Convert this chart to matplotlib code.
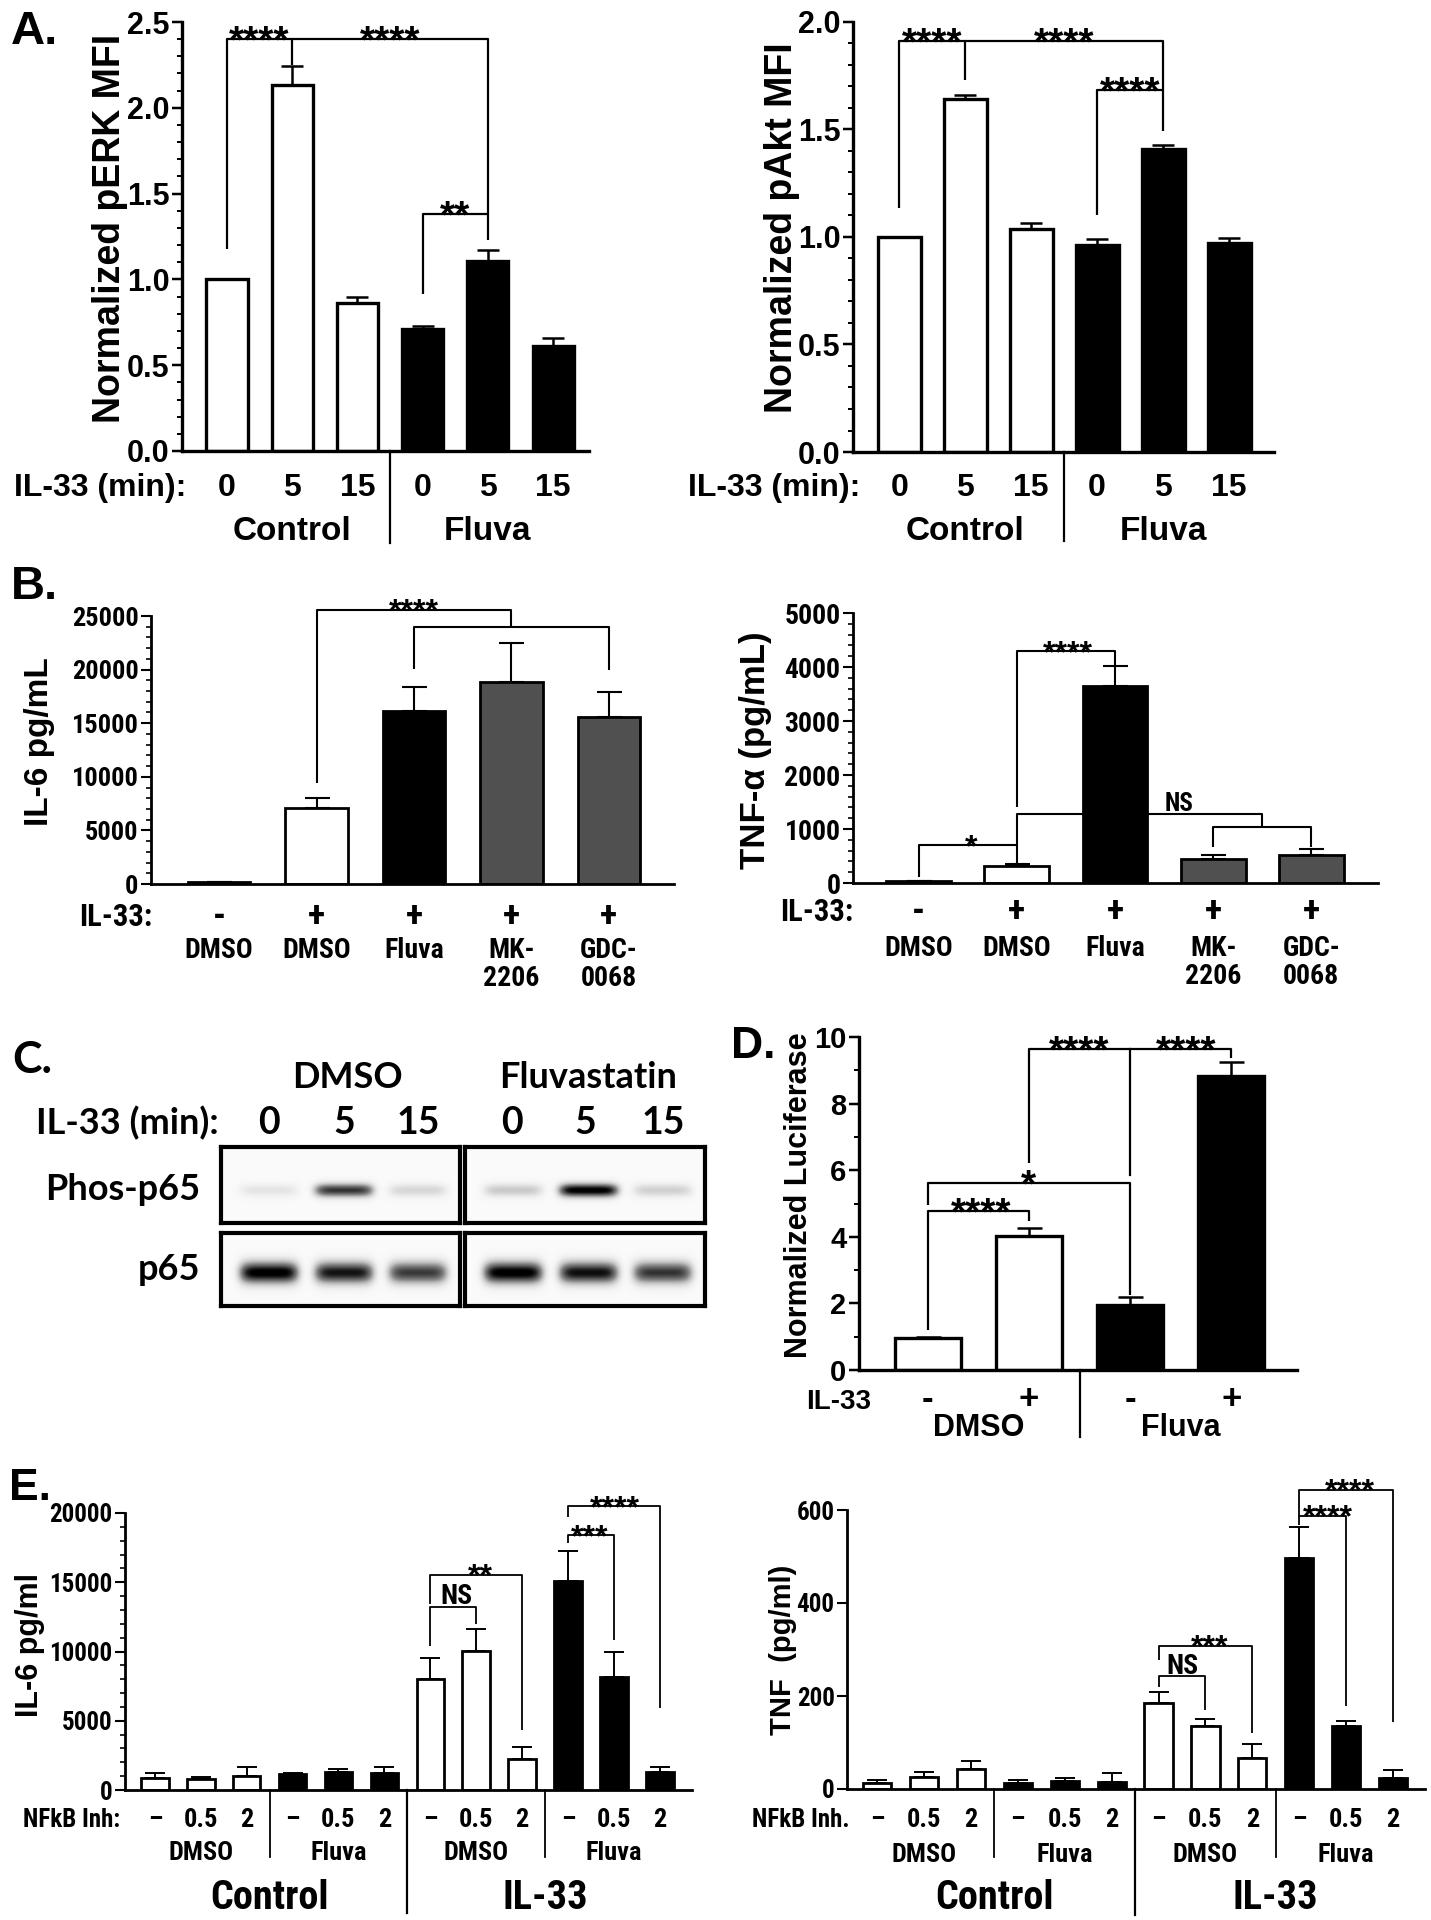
import numpy as np
import matplotlib
matplotlib.use('Agg')
import matplotlib.pyplot as plt
from matplotlib import font_manager as fm
from matplotlib.font_manager import FontProperties
from matplotlib.ticker import MultipleLocator, FormatStrFormatter
from matplotlib.transforms import blended_transform_factory

plt.rcParams['font.family'] = ['Liberation Sans', 'DejaVu Sans']
plt.rcParams['font.weight'] = 'bold'

# ---- data ----
# A: pERK / pAkt MFI
time_labels = ['0', '5', '15', '0', '5', '15']
group_a = ['Control', 'Fluva']
perk_mean = [1.00, 2.13, 0.86, 0.71, 1.11, 0.61]
perk_err = [0.0, 0.115, 0.04, 0.02, 0.06, 0.05]
pakt_mean = [1.00, 1.64, 1.035, 0.965, 1.41, 0.97]
pakt_err = [0.0, 0.02, 0.03, 0.025, 0.02, 0.025]
a_colors = ['white'] * 3 + ['black'] * 3

# B: IL-6 / TNF-a with Akt inhibitors
b_il33 = ['-', '+', '+', '+', '+']
b_treat = ['DMSO', 'DMSO', 'Fluva', 'MK-\n2206', 'GDC-\n0068']
il6_mean = [150, 7050, 16100, 18800, 15600]
il6_err = [0, 1000, 2300, 3700, 2300]
tnf_mean = [30, 316, 3650, 440, 515]
tnf_err = [0, 45, 370, 75, 115]
b_colors = ['white', 'white', 'black', '#505050', '#505050']

# C: western blot band strengths (relative)
blot_groups = ['DMSO', 'Fluvastatin']
blot_times = ['0', '5', '15', '0', '5', '15']
phos_level = [0.15, 0.80, 0.22, 0.28, 1.00, 0.25]
p65_level = [1.00, 0.90, 0.78, 1.00, 0.92, 0.80]

# D: luciferase
d_il33 = ['-', '+', '-', '+']
d_groups = ['DMSO', 'Fluva']
luc_mean = [0.97, 4.03, 1.95, 8.82]
luc_err = [0.03, 0.22, 0.23, 0.42]
d_colors = ['white', 'white', 'black', 'black']

# E: NFkB inhibitor
nfkb_labels = ['\u2013', '0.5', '2'] * 4
e_sub = ['DMSO', 'Fluva', 'DMSO', 'Fluva']
e_main = ['Control', 'IL-33']
e_il6_mean = [840, 770, 1000, 1130, 1320, 1250, 8000, 10050, 2210, 15070, 8130, 1270]
e_il6_err = [360, 190, 680, 120, 170, 430, 1500, 1550, 920, 2170, 1870, 410]
e_tnf_mean = [13, 26, 43, 13, 18, 16, 185, 136, 67, 497, 135, 24]
e_tnf_err = [6, 10, 17, 6, 6, 18, 23, 15, 30, 66, 12, 16]
e_colors = (['white'] * 3 + ['black'] * 3) * 2


# panels B and E use a narrow bold face, if one is installed
def pick_narrow():
    for want in ['Liberation Sans Narrow', 'Arial Narrow', 'Roboto Condensed']:
        for f in fm.fontManager.ttflist:
            if f.name == want and f.weight in (700, 'bold') and f.style == 'normal':
                return f.fname
    return None


NARROW = pick_narrow()


def nf(size):
    if NARROW:
        return FontProperties(fname=NARROW, size=size)
    return FontProperties(family=['Liberation Sans', 'DejaVu Sans'], weight='bold', size=size)


W, H = 1431, 1920
fig = plt.figure(figsize=(W / 100, H / 100), dpi=100)


def fy(ypx):
    return 1 - ypx / H


def ftext(xpx, ypx, s, **kw):
    fig.text(xpx / W, fy(ypx), s, **kw)


def add_ax(x0, ytop, x1, ybase):
    return fig.add_axes([x0 / W, fy(ybase), (x1 - x0) / W, (ybase - ytop) / H])


def style(ax, xlim, ylim, major, minor, lw, fs, fmt='%d', fp=None):
    ax.set_xlim(xlim)
    ax.set_ylim(ylim)
    for s in ['top', 'right']:
        ax.spines[s].set_visible(False)
    for s in ['left', 'bottom']:
        ax.spines[s].set_linewidth(lw)
    ax.set_xticks([])
    ax.set_yticks(np.arange(ylim[0], ylim[1] + major / 2, major))
    ax.yaxis.set_major_formatter(FormatStrFormatter(fmt))
    if minor:
        ax.yaxis.set_minor_locator(MultipleLocator(minor))
    ax.tick_params(axis='y', which='major', length=7, width=lw * 0.75, labelsize=fs, pad=2)
    ax.tick_params(axis='y', which='minor', length=3.5, width=lw * 0.6)
    if fp is not None:
        for t in ax.get_yticklabels():
            t.set_fontproperties(fp)
    ax.patch.set_alpha(0)


def bars(ax, means, errs, colors, width, lw, capsize, elw):
    x = np.arange(len(means))
    ax.bar(x, means, width, color=colors, edgecolor='black', linewidth=lw, zorder=2)
    ax.errorbar(x, means, yerr=[np.zeros(len(errs)), errs], fmt='none', ecolor='black',
                elinewidth=elw, capsize=capsize, capthick=elw, zorder=1)


def bracket(ax, x1, x2, y, y1, y2, lw):
    ax.plot([x1, x1, x2, x2], [y1, y, y, y2], color='black', lw=lw, clip_on=False,
            solid_capstyle='butt', zorder=3)


def sig(ax, x, y, label, fs):
    dy = -0.40 * fs + 1.5 if set(label) == {'*'} else 2
    ax.annotate(label, (x, y), xytext=(0, dy), textcoords='offset points', ha='center',
                va='baseline', fontsize=fs, annotation_clip=False)


def row(ax, xs, ypx, labels, **kw):
    tr = blended_transform_factory(ax.transData, fig.transFigure)
    for x, lab in zip(xs, labels):
        ax.text(x, fy(ypx), lab, transform=tr, ha='center', va='center', clip_on=False, **kw)


def vsep(ax, x, y0px, y1px, lw):
    tr = blended_transform_factory(ax.transData, fig.transFigure)
    ax.plot([x, x], [fy(y0px), fy(y1px)], color='black', lw=lw, transform=tr, clip_on=False)


# ================= A left: pERK =================
ax = add_ax(182, 22, 589, 451)
style(ax, (-0.69, 5.55), (0, 2.5), 0.5, 0.1, 2.4, 22, '%.1f')
bars(ax, perk_mean, perk_err, a_colors, 0.63, 2.4, 8, 1.8)
bracket(ax, 0, 1, 2.40, 1.175, 2.25, 1.6)
bracket(ax, 1, 4, 2.40, 2.40, 1.23, 1.6)
bracket(ax, 3, 4, 1.38, 0.915, 1.38, 1.6)
sig(ax, 0.5, 2.40, '****', 28)
sig(ax, 2.5, 2.40, '****', 28)
sig(ax, 3.5, 1.38, '**', 28)
row(ax, range(6), 488, time_labels, fontsize=23)
row(ax, [1, 4], 532, group_a, fontsize=24)
vsep(ax, 2.5, 451, 543, 1.6)
ftext(186, 488, 'IL-33 (min):', ha='right', va='center', fontsize=23)
ftext(110, 228, 'Normalized pERK MFI', rotation=90, ha='center', va='center', fontsize=27)
ftext(11, 10, 'A.', ha='left', va='top', fontsize=34)

# ================= A right: pAkt =================
ax = add_ax(853, 22, 1274, 452)
style(ax, (-0.70, 5.68), (0, 2.0), 0.5, 0.1, 2.4, 22, '%.1f')
bars(ax, pakt_mean, pakt_err, a_colors, 0.65, 2.4, 8, 1.8)
bracket(ax, 0, 1, 1.91, 1.135, 1.73, 1.6)
bracket(ax, 1, 4, 1.91, 1.91, 1.495, 1.6)
bracket(ax, 3, 4, 1.683, 1.10, 1.683, 1.6)
sig(ax, 0.5, 1.91, '****', 28)
sig(ax, 2.5, 1.91, '****', 28)
sig(ax, 3.5, 1.683, '****', 28)
row(ax, range(6), 488, time_labels, fontsize=23)
row(ax, [1, 4], 532, group_a, fontsize=24)
vsep(ax, 2.5, 452, 541, 1.6)
ftext(860, 488, 'IL-33 (min):', ha='right', va='center', fontsize=23)
ftext(782, 228, 'Normalized pAkt MFI', rotation=90, ha='center', va='center', fontsize=27)

# ================= B left: IL-6 =================
ax = add_ax(151, 616, 674, 884)
style(ax, (-0.70, 4.67), (0, 25000), 5000, 1000, 2.0, 19, fp=nf(19))
bars(ax, il6_mean, il6_err, b_colors, 0.64, 2.0, 9, 1.5)
bracket(ax, 1, 3, 25600, 9390, 23950, 1.5)
bracket(ax, 2, 4, 23950, 20100, 20000, 1.5)
sig(ax, 2.0, 25600, '****', 23)
row(ax, range(5), 917, b_il33, fontproperties=nf(26))
for i, lab in enumerate(b_treat):
    for j, part in enumerate(lab.split('\n')):
        row(ax, [i], 950 + 28 * j, [part], fontproperties=nf(20))
ftext(152, 917, 'IL-33:', ha='right', va='center', fontproperties=nf(22))
ftext(40, 742, 'IL-6 pg/mL', rotation=90, ha='center', va='center', fontsize=24)
ftext(11, 565, 'B.', ha='left', va='top', fontsize=34)

# ================= B right: TNF-a =================
ax = add_ax(853, 613, 1378, 883)
style(ax, (-0.67, 4.68), (0, 5000), 1000, 200, 2.0, 20, fp=nf(20))
bars(ax, tnf_mean, tnf_err, b_colors, 0.66, 2.0, 9, 1.5)
bracket(ax, 0, 1, 700, 110, 360, 1.5)
bracket(ax, 1, 2, 4290, 1410, 4020, 1.5)
bracket(ax, 1, 3.5, 1287, 700, 1040, 1.5)
bracket(ax, 3, 4, 1040, 670, 670, 1.5)
sig(ax, 0.53, 700, '*', 23)
sig(ax, 1.52, 4290, '****', 23)
row(ax, [2.65], 0, [''])
ax.annotate('NS', (2.65, 1287), xytext=(0, 2), textcoords='offset points', ha='center',
            va='baseline', fontproperties=nf(18), annotation_clip=False)
row(ax, range(5), 912, b_il33, fontproperties=nf(26))
for i, lab in enumerate(b_treat):
    for j, part in enumerate(lab.split('\n')):
        row(ax, [i], 948 + 28 * j, [part], fontproperties=nf(20))
ftext(853, 912, 'IL-33:', ha='right', va='center', fontproperties=nf(22))
ftext(756, 750, 'TNF-\u03b1 (pg/mL)', rotation=90, ha='center', va='center', fontsize=25)

# ================= C: blot =================
cfont = ['Lato', 'DejaVu Sans']
lane_pos = [0.20, 0.515, 0.825]


def blot(x0, x1, y0, y1, levels, cy, hh):
    bax = add_ax(x0, y0, x1, y1)
    ny, nx = 80, 250
    yy, xx = np.mgrid[0:1:ny * 1j, 0:1:nx * 1j]
    img = np.full((ny, nx), 0.04)
    for cx, lv in zip(lane_pos, levels):
        img += lv * np.exp(-((xx - cx) / 0.125) ** 6) * np.exp(-((yy - cy) / hh) ** 2)
    bax.imshow(np.clip(img, 0, 1), cmap='Greys', vmin=0, vmax=1, extent=(0, 1, 1, 0),
               aspect='auto', interpolation='bilinear')
    bax.set_xticks([])
    bax.set_yticks([])
    for s in bax.spines.values():
        s.set_linewidth(3)


blot(221, 460, 1147, 1223, phos_level[:3], 0.57, 0.09)
blot(465, 705, 1147, 1223, phos_level[3:], 0.57, 0.09)
blot(221, 460, 1233, 1306, p65_level[:3], 0.55, 0.15)
blot(465, 705, 1233, 1306, p65_level[3:], 0.55, 0.15)
ftext(347, 1077, blot_groups[0], ha='center', va='center', fontsize=26, family=cfont)
ftext(588, 1077, blot_groups[1], ha='center', va='center', fontsize=26, family=cfont)
for xp, lab in zip([269, 344, 418, 512, 585, 663], blot_times):
    ftext(xp, 1123, lab, ha='center', va='center', fontsize=27, family=cfont)
ftext(219, 1123, 'IL-33 (min):', ha='right', va='center', fontsize=26, family=cfont)
ftext(200, 1190, 'Phos-p65', ha='right', va='center', fontsize=26, family=cfont)
ftext(200, 1270, 'p65', ha='right', va='center', fontsize=26, family=cfont)
ftext(12, 1040, 'C.', ha='left', va='top', fontsize=32, family=cfont)

# ================= D: luciferase =================
ax = add_ax(859, 1037, 1297, 1370)
style(ax, (-0.68, 3.65), (0, 10), 2, 1, 2.4, 21)
bars(ax, luc_mean, luc_err, d_colors, 0.65, 2.4, 9, 1.8)
bracket(ax, 0, 1, 4.76, 1.2, 4.46, 1.6)
bracket(ax, 0, 2, 5.63, 4.96, 2.25, 1.6)
bracket(ax, 1, 3, 9.64, 6.21, 9.37, 1.6)
ax.plot([2, 2], [9.64, 5.86], color='black', lw=1.6, clip_on=False)
sig(ax, 0.53, 4.76, '****', 28)
sig(ax, 1.0, 5.63, '*', 28)
sig(ax, 1.5, 9.64, '****', 28)
sig(ax, 2.55, 9.64, '****', 28)
row(ax, range(4), 1399, d_il33, fontsize=25)
row(ax, [0.5, 2.5], 1428, d_groups, fontsize=22)
vsep(ax, 1.5, 1370, 1437, 1.6)
ftext(871, 1402, 'IL-33', ha='right', va='center', fontsize=20)
ftext(799, 1195, 'Normalized Luciferase', rotation=90, ha='center', va='center', fontsize=22)
ftext(731, 1026, 'D.', ha='left', va='top', fontsize=32)

# ================= E left: IL-6 =================
ax = add_ax(125, 1513, 692, 1790)
style(ax, (-0.65, 11.7), (0, 20000), 5000, 1000, 2.0, 18, fp=nf(18))
bars(ax, e_il6_mean, e_il6_err, e_colors, 0.6, 2.0, 7, 1.4)
bracket(ax, 6, 7, 13200, 10400, 12000, 1.3)
bracket(ax, 6, 8, 15550, 13460, 4330, 1.3)
bracket(ax, 9, 10, 18400, 17800, 10800, 1.3)
bracket(ax, 9, 11, 20500, 19700, 5900, 1.3)
ax.annotate('NS', (6.57, 13200), xytext=(0, 2), textcoords='offset points', ha='center',
            va='baseline', fontproperties=nf(20), annotation_clip=False)
sig(ax, 7.1, 15550, '**', 23)
sig(ax, 9.47, 18400, '***', 23)
sig(ax, 10.02, 20500, '****', 23)
row(ax, range(12), 1820, nfkb_labels, fontproperties=nf(19))
row(ax, [1, 4, 7, 10], 1853, e_sub, fontproperties=nf(19))
row(ax, [2.5, 8.5], 1898, e_main, fontproperties=nf(29))
for xs in [2.5, 8.5]:
    vsep(ax, xs, 1790, 1857, 1.3)
vsep(ax, 5.5, 1790, 1913, 1.6)
ftext(120, 1820, 'NFkB Inh:', ha='right', va='center', fontproperties=nf(18))
ftext(30, 1645, 'IL-6 pg/ml', rotation=90, ha='center', va='center', fontsize=22)
ftext(9, 1468, 'E.', ha='left', va='top', fontsize=32)

# ================= E right: TNF =================
ax = add_ax(847, 1510, 1425, 1789)
style(ax, (-0.64, 11.68), (0, 600), 200, None, 2.0, 18, fp=nf(18))
bars(ax, e_tnf_mean, e_tnf_err, e_colors, 0.6, 2.0, 7, 1.4)
bracket(ax, 6, 7, 242, 220, 170, 1.3)
bracket(ax, 6, 8, 308, 278, 120, 1.3)
bracket(ax, 9, 10, 587, 568, 178, 1.3)
bracket(ax, 9, 11, 643, 587, 145, 1.3)
ax.annotate('NS', (6.52, 242), xytext=(0, 2), textcoords='offset points', ha='center',
            va='baseline', fontproperties=nf(20), annotation_clip=False)
sig(ax, 7.1, 308, '***', 23)
sig(ax, 9.6, 587, '****', 23)
sig(ax, 10.08, 643, '****', 23)
row(ax, range(12), 1820, nfkb_labels, fontproperties=nf(19))
row(ax, [1, 4, 7, 10], 1855, e_sub, fontproperties=nf(19))
row(ax, [2.5, 8.5], 1898, e_main, fontproperties=nf(29))
for xs in [2.5, 8.5]:
    vsep(ax, xs, 1789, 1857, 1.3)
vsep(ax, 5.5, 1789, 1915, 1.6)
ftext(850, 1820, 'NFkB Inh.', ha='right', va='center', fontproperties=nf(18))
ftext(783, 1650, 'TNF  (pg/ml)', rotation=90, ha='center', va='center', fontsize=21)

fig.savefig('out.png', dpi=100)
